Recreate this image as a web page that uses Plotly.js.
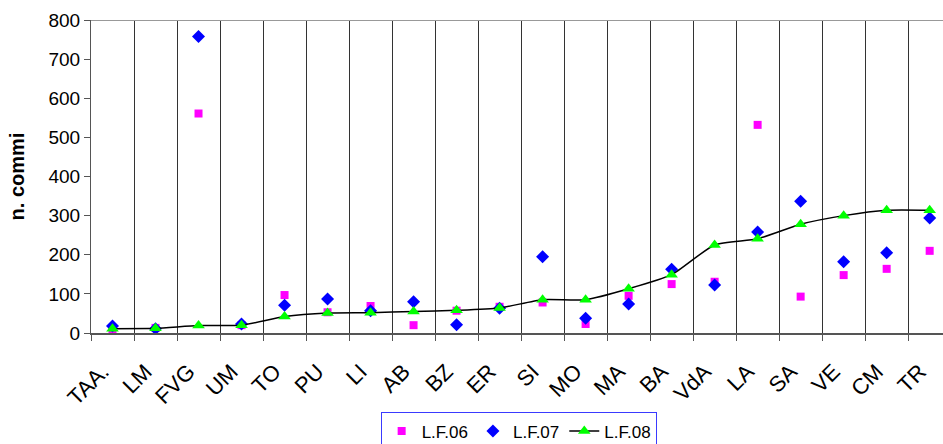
<!DOCTYPE html>
<html>
<head>
<meta charset="utf-8">
<script src="https://cdn.plot.ly/plotly-3.0.1.min.js"></script>
<style>
  html, body { margin: 0; padding: 0; background: #fff; }
  #chart { width: 943px; height: 444px; }
</style>
</head>
<body>
<div id="chart"></div>
<script>
const categories = ["TAA.", "LM", "FVG", "UM", "TO", "PU", "LI", "AB", "BZ", "ER",
                    "SI", "MO", "MA", "BA", "VdA", "LA", "SA", "VE", "CM", "TR"];
const lf06 = [10, 13, 561, 20, 97, 53, 69, 20, 57, 67, 78, 23, 95, 125, 131, 532, 93, 148, 164, 210];
const lf07 = [18, 11, 758, 23, 71, 87, 57, 80, 21, 63, 195, 38, 74, 163, 123, 258, 337, 182, 205, 294];
const lf08 = [11, 12, 19, 20, 42, 51, 52, 55, 58, 64, 85, 85, 113, 149, 225, 241, 278, 300, 314, 314];
const seriesNames = ["L.F.06", "L.F.07", "L.F.08"];
const yTicks = [0, 100, 200, 300, 400, 500, 600, 700, 800];

const FONT = "Liberation Sans, Arial, sans-serif";

const traces = [
  {
    x: categories, y: lf06, name: seriesNames[0], type: "scatter", mode: "markers",
    marker: { symbol: "square", color: "#ff00ff", size: 8 }
  },
  {
    x: categories, y: lf07, name: seriesNames[1], type: "scatter", mode: "markers",
    marker: { symbol: "diamond", color: "#0000ff", size: 10 }
  },
  {
    x: categories, y: lf08, name: seriesNames[2], type: "scatter", mode: "lines+markers",
    line: { color: "#000000", width: 1.5, shape: "spline", smoothing: 0.6 },
    marker: { symbol: "triangle-up", color: "#00ff00", size: 11 }
  }
];

const layout = {
  width: 943, height: 444,
  margin: { l: 91, r: 0, t: 20, b: 111, autoexpand: false },
  paper_bgcolor: "#ffffff",
  plot_bgcolor: "#ffffff",
  font: { family: FONT, color: "#000000", size: 18 },
  showlegend: true,
  legend: {
    orientation: "h",
    xref: "container", yref: "container",
    x: 0.55, xanchor: "center",
    y: 0.071, yanchor: "top",
    bordercolor: "#3a3aff", borderwidth: 1,
    font: { family: FONT, size: 17, color: "#000" },
    bgcolor: "#ffffff",
    itemwidth: 30
  },
  xaxis: {
    type: "category",
    range: [-0.5, 19.31],
    automargin: false,
    tickson: "boundaries",
    showgrid: true, gridcolor: "#333333", gridwidth: 1,
    ticks: "outside", ticklen: 6, tickcolor: "#555555",
    showline: true, linecolor: "#555555", linewidth: 2,
    tickangle: -45,
    ticklabelstandoff: 15,
    ticklabelshift: -10,
    tickfont: { family: FONT, size: 22, color: "#000" },
    zeroline: false,
    fixedrange: true
  },
  yaxis: {
    range: [0, 800],
    automargin: false,
    tickvals: yTicks,
    ticktext: yTicks.map(String),
    showgrid: false,
    zeroline: false,
    showline: true, linecolor: "#555555", linewidth: 1,
    ticks: "outside", ticklen: 6, tickcolor: "#555555",
    tickfont: { family: FONT, size: 19, color: "#000" },
    title: { text: "<b>n. commi</b>", font: { family: FONT, size: 20, color: "#000" }, standoff: 18 },
    fixedrange: true
  },
  shapes: [
    { type: "line", xref: "paper", yref: "y", x0: 0, x1: 1, y0: 800, y1: 800,
      line: { color: "#999999", width: 2 } }
  ]
};

Plotly.newPlot("chart", traces, layout, { displayModeBar: false, staticPlot: true });
</script>
</body>
</html>
